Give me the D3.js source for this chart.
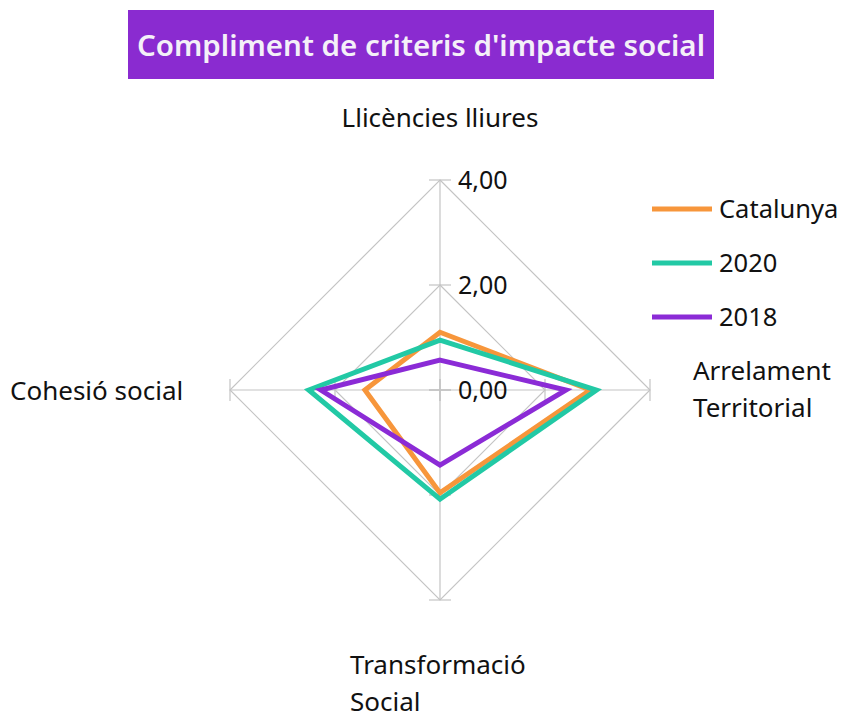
<!DOCTYPE html>
<html>
<head>
<meta charset="utf-8">
<script src="https://cdn.jsdelivr.net/npm/d3@7.9.0/dist/d3.min.js"></script>
<style>
  body { margin: 0; background: #fff; }
  svg { display: block; font-family: 'Noto Sans', sans-serif; }
</style>
</head>
<body>
<svg id="chart" width="842" height="718"></svg>
<script>
const axes = ['Llicències lliures', 'Arrelament Territorial', 'Transformació Social', 'Cohesió social'];
const seriesNames = ['Catalunya', '2020', '2018'];
const catalunya = [1.1, 2.86, 1.96, 1.43];
const y2020 = [0.95, 2.98, 2.08, 2.5];
const y2018 = [0.57, 2.4, 1.43, 2.27];
const tickValues = [0, 2, 4];
const colors = ['#f7963b', '#22c9a5', '#8b2bd6'];

const svg = d3.select('#chart');
const cx = 440, cy = 390;

const r = d3.scaleLinear().domain([0, 4]).range([0, 210]);
const angle = (i) => (i * Math.PI * 2) / axes.length;
const pt = (i, v) => [cx + r(v) * Math.sin(angle(i)), cy - r(v) * Math.cos(angle(i))];
const fmt = (v) => d3.format('.2f')(v).replace('.', ',');

// title
svg.append('rect')
  .attr('x', 128).attr('y', 10).attr('width', 586).attr('height', 69)
  .attr('fill', '#8a2bd0');
svg.append('text')
  .attr('x', 421).attr('y', 56)
  .attr('text-anchor', 'middle')
  .attr('fill', '#f4f0f8')
  .attr('font-size', 29.5)
  .attr('font-weight', 600)
  .text("Compliment de criteris d'impacte social");

// grid
const grid = svg.append('g').attr('stroke', '#c4c4c4').attr('fill', 'none');
tickValues.filter((t) => t > 0).forEach((t) => {
  grid.append('path')
    .attr('d', d3.line()(axes.map((a, i) => pt(i, t))) + 'Z')
    .attr('stroke-width', 1.2);
});
axes.forEach((a, i) => {
  const [x, y] = pt(i, 4);
  grid.append('line').attr('x1', cx).attr('y1', cy).attr('x2', x).attr('y2', y).attr('stroke-width', 1.2);
  tickValues.forEach((t) => {
    const [tx, ty] = pt(i, t);
    const px = Math.cos(angle(i)) * 11, py = Math.sin(angle(i)) * 11;
    grid.append('line')
      .attr('x1', tx - px).attr('y1', ty - py)
      .attr('x2', tx + px).attr('y2', ty + py)
      .attr('stroke-width', 1.2);
  });
});

// tick labels
tickValues.forEach((t) => {
  svg.append('text')
    .attr('x', cx + 18).attr('y', cy - r(t))
    .attr('dy', '0.35em')
    .attr('font-size', 25)
    .attr('fill', '#111')
    .text(fmt(t));
});

// series
const allSeries = [catalunya, y2020, y2018];
allSeries.forEach((vals, s) => {
  svg.append('path')
    .attr('d', d3.line()(vals.map((v, i) => pt(i, v))) + 'Z')
    .attr('fill', 'none')
    .attr('stroke', colors[s])
    .attr('stroke-width', 5)
    .attr('stroke-linejoin', 'miter');
});

// axis labels
const labelPos = [
  { x: 440, y: 127, anchor: 'middle', lines: ['Llicències lliures'] },
  { x: 693, y: 380, anchor: 'start', lines: ['Arrelament', 'Territorial'] },
  { x: 350, y: 674, anchor: 'start', lines: ['Transformació', 'Social'] },
  { x: 10, y: 400, anchor: 'start', lines: ['Cohesió social'] },
];
labelPos.forEach((l) => {
  const t = svg.append('text')
    .attr('x', l.x).attr('y', l.y)
    .attr('text-anchor', l.anchor)
    .attr('font-size', 26)
    .attr('fill', '#111');
  l.lines.forEach((line, k) => {
    t.append('tspan').attr('x', l.x).attr('dy', k === 0 ? 0 : 37).text(line);
  });
});

// legend
const legend = svg.append('g');
seriesNames.forEach((name, s) => {
  const y = 209 + s * 54;
  legend.append('line')
    .attr('x1', 652).attr('x2', 712).attr('y1', y).attr('y2', y)
    .attr('stroke', colors[s]).attr('stroke-width', 5);
  legend.append('text')
    .attr('x', 719).attr('y', y).attr('dy', '0.35em')
    .attr('font-size', 25.5).attr('fill', '#111')
    .text(name);
});
</script>
</body>
</html>
